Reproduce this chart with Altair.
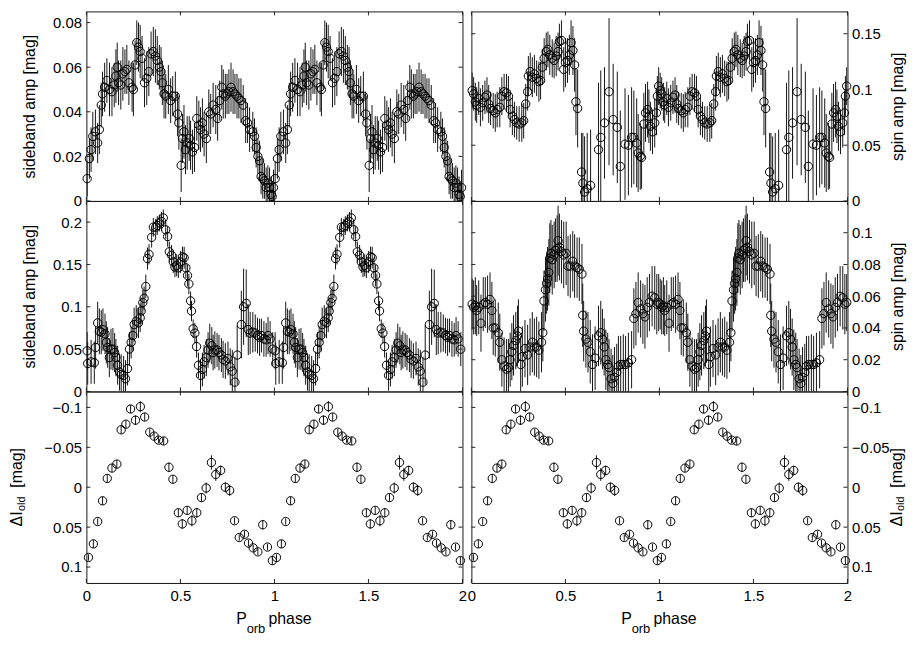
import altair as alt
import pandas as pd

FONT = "Liberation Sans"

# ---------------- data (one orbital cycle, plotted twice) ----------------
# Row 1, left: sideband amplitude
phase_a = [0.004,0.016,0.025,0.034,0.048,0.060,0.069,0.079,0.086,0.097,
           0.109,0.123,0.136,0.148,0.157,0.164,0.171,0.183,0.194,0.205,
           0.215,0.226,0.243,0.250,0.259,0.268,0.277,0.286,0.296,0.309,
           0.321,0.332,0.344,0.356,0.367,0.377,0.388,0.397,0.404,0.413,
           0.422,0.436,0.448,0.459,0.473,0.485,0.492,0.504,0.511,0.519,
           0.527,0.536,0.547,0.554,0.564,0.575,0.587,0.598,0.607,0.617,
           0.626,0.638,0.651,0.661,0.674,0.688,0.698,0.709,0.720,0.728,
           0.739,0.748,0.758,0.769,0.780,0.790,0.801,0.811,0.822,0.834,
           0.847,0.857,0.868,0.885,0.894,0.903,0.912,0.921,0.929,0.938,
           0.947,0.956,0.965,0.974,0.982,0.988,0.995]
amp_a = [0.010,0.019,0.023,0.029,0.031,0.026,0.032,0.043,0.048,0.051,
         0.054,0.050,0.049,0.052,0.056,0.060,0.053,0.052,0.057,0.058,
         0.059,0.053,0.051,0.050,0.061,0.071,0.069,0.067,0.064,0.053,
         0.055,0.058,0.066,0.067,0.065,0.063,0.060,0.058,0.053,0.048,
         0.047,0.050,0.045,0.047,0.047,0.039,0.035,0.016,0.028,0.031,
         0.023,0.026,0.028,0.025,0.022,0.024,0.037,0.034,0.032,0.035,
         0.030,0.028,0.040,0.039,0.043,0.041,0.037,0.045,0.051,0.048,
         0.047,0.048,0.049,0.051,0.049,0.048,0.047,0.046,0.045,0.043,
         0.036,0.035,0.032,0.031,0.029,0.024,0.020,0.018,0.011,0.010,
         0.009,0.006,0.008,0.006,0.003,0.002,0.006]
err_a = [0.008,0.009,0.010,0.011,0.010,0.009,0.011,0.010,0.010,0.011,
         0.010,0.012,0.011,0.010,0.012,0.011,0.010,0.011,0.012,0.010,
         0.011,0.010,0.011,0.012,0.011,0.010,0.011,0.012,0.010,0.011,
         0.012,0.011,0.010,0.011,0.012,0.011,0.010,0.011,0.010,0.011,
         0.010,0.011,0.010,0.009,0.011,0.010,0.012,0.012,0.011,0.012,
         0.011,0.012,0.010,0.011,0.010,0.011,0.010,0.011,0.010,0.011,
         0.010,0.011,0.010,0.009,0.010,0.011,0.010,0.009,0.010,0.011,
         0.010,0.009,0.010,0.011,0.010,0.009,0.010,0.009,0.010,0.009,
         0.010,0.009,0.010,0.009,0.008,0.009,0.008,0.009,0.008,0.009,
         0.008,0.009,0.008,0.009,0.008,0.007,0.008]

# Row 1, right: spin amplitude
phase_b = [0.004,0.012,0.021,0.028,0.039,0.048,0.060,0.072,0.083,0.092,
           0.102,0.116,0.127,0.137,0.151,0.162,0.174,0.187,0.197,0.206,
           0.218,0.229,0.241,0.254,0.268,0.278,0.289,0.299,0.303,0.313,
           0.324,0.335,0.347,0.359,0.368,0.377,0.387,0.398,0.407,0.417,
           0.430,0.440,0.451,0.461,0.468,0.479,0.491,0.500,0.511,0.521,
           0.530,0.540,0.549,0.556,0.565,0.586,0.593,0.602,0.616,0.634,
           0.676,0.688,0.708,0.732,0.754,0.776,0.792,0.817,0.835,0.852,
           0.864,0.879,0.887,0.898,0.905,0.917,0.926,0.937,0.944,0.952,
           0.963,0.975,0.984,0.989,0.996]
amp_b = [0.099,0.096,0.089,0.086,0.092,0.084,0.088,0.093,0.095,0.087,
         0.083,0.081,0.079,0.082,0.084,0.094,0.098,0.097,0.094,0.082,
         0.076,0.073,0.070,0.069,0.070,0.072,0.087,0.098,0.112,0.116,
         0.111,0.114,0.110,0.107,0.108,0.120,0.128,0.134,0.136,0.131,
         0.128,0.126,0.130,0.134,0.143,0.144,0.118,0.124,0.126,0.131,
         0.142,0.135,0.122,0.089,0.083,0.026,0.016,0.008,0.011,0.014,
         0.046,0.057,0.070,0.098,0.073,0.066,0.031,0.051,0.050,0.057,
         0.057,0.052,0.043,0.040,0.039,0.069,0.079,0.082,0.076,0.067,
         0.062,0.070,0.079,0.094,0.103]
err_b = [0.016,0.015,0.017,0.016,0.015,0.017,0.016,0.015,0.016,0.017,
         0.015,0.016,0.017,0.016,0.018,0.017,0.016,0.017,0.018,0.016,
         0.017,0.016,0.015,0.016,0.017,0.016,0.018,0.017,0.018,0.017,
         0.018,0.017,0.016,0.018,0.017,0.016,0.018,0.017,0.016,0.018,
         0.017,0.016,0.018,0.017,0.016,0.018,0.020,0.022,0.020,0.018,
         0.020,0.022,0.024,0.030,0.035,0.035,0.045,0.050,0.050,0.050,
         0.060,0.060,0.050,0.066,0.050,0.050,0.050,0.050,0.045,0.045,
         0.042,0.040,0.035,0.030,0.028,0.028,0.026,0.025,0.024,0.022,
         0.020,0.022,0.020,0.018,0.017]

# Row 2, left: sideband amplitude
phase_c = [0.004,0.007,0.025,0.042,0.049,0.060,0.069,0.079,0.088,0.099,
           0.106,0.113,0.122,0.131,0.141,0.150,0.157,0.166,0.176,0.185,
           0.198,0.208,0.219,0.229,0.238,0.247,0.254,0.265,0.277,0.286,
           0.291,0.300,0.307,0.316,0.325,0.333,0.347,0.356,0.369,0.377,
           0.388,0.399,0.409,0.422,0.432,0.441,0.453,0.462,0.471,0.480,
           0.489,0.501,0.511,0.520,0.529,0.538,0.545,0.554,0.559,0.568,
           0.577,0.586,0.596,0.607,0.617,0.626,0.638,0.647,0.656,0.667,
           0.674,0.683,0.695,0.705,0.718,0.727,0.739,0.753,0.765,0.776,
           0.790,0.802,0.824,0.836,0.850,0.861,0.871,0.885,0.898,0.910,
           0.921,0.931,0.944,0.956,0.966,0.977,0.991]
amp_c = [0.048,0.033,0.035,0.034,0.052,0.081,0.071,0.070,0.073,0.068,
         0.058,0.052,0.040,0.050,0.050,0.046,0.040,0.031,0.023,0.020,
         0.019,0.015,0.027,0.050,0.058,0.066,0.079,0.083,0.081,0.087,
         0.095,0.105,0.110,0.124,0.157,0.162,0.182,0.194,0.194,0.196,
         0.199,0.201,0.205,0.191,0.183,0.165,0.161,0.153,0.147,0.149,
         0.146,0.153,0.159,0.158,0.146,0.137,0.127,0.107,0.095,0.074,
         0.069,0.053,0.031,0.019,0.026,0.035,0.040,0.049,0.057,0.054,
         0.046,0.049,0.049,0.046,0.043,0.038,0.036,0.039,0.029,0.024,
         0.011,0.043,0.079,0.100,0.104,0.073,0.069,0.070,0.069,0.066,
         0.064,0.066,0.062,0.061,0.066,0.062,0.050]
err_c = [0.022,0.025,0.026,0.025,0.025,0.025,0.027,0.026,0.025,0.024,
         0.025,0.024,0.023,0.024,0.025,0.023,0.022,0.023,0.022,0.024,
         0.023,0.022,0.020,0.020,0.019,0.018,0.020,0.019,0.018,0.017,
         0.016,0.015,0.014,0.014,0.013,0.012,0.012,0.011,0.010,0.011,
         0.010,0.011,0.010,0.011,0.012,0.012,0.012,0.013,0.012,0.013,
         0.012,0.013,0.012,0.013,0.012,0.013,0.012,0.011,0.012,0.011,
         0.012,0.013,0.015,0.018,0.020,0.020,0.022,0.021,0.023,0.022,
         0.021,0.022,0.020,0.021,0.020,0.022,0.021,0.020,0.022,0.025,
         0.030,0.035,0.040,0.045,0.040,0.030,0.025,0.024,0.022,0.021,
         0.022,0.020,0.021,0.020,0.022,0.021,0.020]

# Row 2, right: spin amplitude
phase_d = [0.004,0.012,0.021,0.028,0.039,0.051,0.063,0.074,0.086,0.099,
           0.109,0.116,0.127,0.143,0.151,0.162,0.174,0.187,0.197,0.206,
           0.215,0.224,0.236,0.245,0.250,0.262,0.271,0.285,0.299,0.312,
           0.324,0.335,0.347,0.359,0.373,0.380,0.386,0.394,0.400,0.405,
           0.412,0.417,0.423,0.430,0.440,0.447,0.456,0.461,0.468,0.479,
           0.491,0.504,0.514,0.526,0.539,0.549,0.562,0.574,0.588,0.592,
           0.597,0.609,0.620,0.632,0.644,0.658,0.676,0.688,0.697,0.706,
           0.715,0.725,0.732,0.743,0.752,0.761,0.773,0.782,0.794,0.808,
           0.820,0.835,0.852,0.864,0.875,0.887,0.900,0.912,0.923,0.935,
           0.947,0.961,0.975,0.986,0.996]
amp_d = [0.055,0.053,0.054,0.051,0.053,0.043,0.055,0.056,0.055,0.058,
         0.051,0.040,0.040,0.037,0.031,0.020,0.016,0.014,0.015,0.020,
         0.025,0.029,0.032,0.035,0.038,0.017,0.022,0.027,0.023,0.028,
         0.031,0.028,0.028,0.026,0.031,0.037,0.057,0.064,0.068,0.071,
         0.075,0.084,0.087,0.083,0.086,0.089,0.090,0.095,0.091,0.088,
         0.086,0.087,0.079,0.079,0.082,0.079,0.078,0.077,0.074,0.048,
         0.038,0.033,0.031,0.025,0.017,0.021,0.035,0.037,0.033,0.028,
         0.020,0.017,0.015,0.008,0.005,0.009,0.012,0.016,0.017,0.017,
         0.017,0.018,0.020,0.046,0.049,0.056,0.052,0.049,0.047,0.053,
         0.056,0.060,0.059,0.055,0.056]
err_d = [0.016,0.017,0.018,0.016,0.017,0.018,0.017,0.016,0.018,0.017,
         0.018,0.017,0.018,0.019,0.018,0.017,0.018,0.019,0.018,0.017,
         0.018,0.019,0.018,0.019,0.020,0.018,0.019,0.018,0.019,0.018,
         0.019,0.018,0.019,0.018,0.019,0.018,0.019,0.020,0.019,0.020,
         0.021,0.022,0.021,0.022,0.021,0.020,0.021,0.022,0.021,0.020,
         0.021,0.020,0.019,0.020,0.019,0.020,0.019,0.020,0.019,0.020,
         0.019,0.018,0.019,0.020,0.019,0.020,0.019,0.020,0.019,0.018,
         0.019,0.020,0.018,0.019,0.018,0.019,0.018,0.019,0.018,0.019,
         0.018,0.019,0.018,0.019,0.020,0.019,0.018,0.019,0.020,0.019,
         0.018,0.019,0.020,0.019,0.018]

# Row 3 (both panels): Delta I_old light curve
phase_e = [0.011,0.037,0.060,0.086,0.111,0.136,0.162,0.185,0.210,0.235,
           0.261,0.287,0.310,0.337,0.360,0.384,0.411,0.439,0.460,0.489,
           0.510,0.536,0.561,0.587,0.612,0.637,0.665,0.688,0.714,0.739,
           0.762,0.788,0.813,0.841,0.862,0.887,0.912,0.938,0.963,0.989]
mag_e = [0.088,0.071,0.043,0.017,-0.011,-0.024,-0.029,-0.072,-0.079,-0.098,
         -0.084,-0.101,-0.088,-0.069,-0.064,-0.059,-0.058,-0.025,-0.010,0.032,
         0.046,0.029,0.042,0.032,0.013,0.001,-0.031,-0.016,-0.021,0.000,
         0.004,0.042,0.063,0.059,0.070,0.076,0.081,0.047,0.075,0.092]
err_e = [0.004,0.005,0.004,0.005,0.005,0.005,0.005,0.005,0.005,0.005,
         0.006,0.007,0.005,0.004,0.004,0.004,0.005,0.006,0.005,0.005,
         0.006,0.005,0.007,0.006,0.005,0.007,0.009,0.008,0.006,0.006,
         0.007,0.004,0.004,0.004,0.004,0.004,0.004,0.006,0.004,0.005]

x_ticks = [0, 0.5, 1, 1.5, 2]
yt_a = [0, 0.02, 0.04, 0.06, 0.08]
yt_b = [0, 0.05, 0.1, 0.15]
yt_c = [0, 0.05, 0.1, 0.15, 0.2]
yt_d = [0, 0.02, 0.04, 0.06, 0.08, 0.1]
yt_e = [-0.1, -0.05, 0, 0.05, 0.1]

# ---------------- layout ----------------
W = 379
HEIGHTS = [191, 192, 193]
TL = 4  # tick length (inward)
NOTICK = dict(ticks=False, tickSize=0, domain=False, grid=False)
TICK_COLOR = "#222222"


def two_cycles(ph, val, err):
    rows = []
    for k in (0, 1):
        for p, v, e in zip(ph, val, err):
            rows.append({"phase": p + k, "val": v, "lo": v - e, "hi": v + e})
    return pd.DataFrame(rows)


def text(s, x, y, size, angle=0):
    return alt.Chart(pd.DataFrame({"t": [s]})).mark_text(
        text=s, font=FONT, fontSize=size, angle=angle, align="left",
        baseline="alphabetic", color="black"
    ).encode(x=alt.value(x), y=alt.value(y))


def inner_ticks(values, scale, along, h):
    """Inward pointing tick marks on both edges of the plot box."""
    tdf = pd.DataFrame({"t": values})
    out = []
    if along == "x":
        for a, b in ((0, TL), (h - TL, h)):
            out.append(alt.Chart(tdf).mark_rule(color=TICK_COLOR, strokeWidth=1).encode(
                x=alt.X("t:Q", scale=scale, axis=None),
                y=alt.value(a), y2=alt.value(b)))
    else:
        for a, b in ((0, TL), (W - TL, W)):
            out.append(alt.Chart(tdf).mark_rule(color=TICK_COLOR, strokeWidth=1).encode(
                y=alt.Y("t:Q", scale=scale, axis=None),
                x=alt.value(a), x2=alt.value(b)))
    return out


def panel(df, ydom, yticks, title, col, row, reverse=False):
    h = HEIGHTS[row]
    xs = alt.Scale(domain=[0, 2], nice=False, zero=False)
    ys = alt.Scale(domain=ydom, nice=False, zero=False, reverse=reverse)
    if row == 2:
        bottom = alt.Axis(orient="bottom", values=x_ticks, format="~g",
                          labelPadding=6, labelFlush=False, title=None, **NOTICK)
    else:
        bottom = None
    if col == 0:
        prim = alt.Axis(orient="left", values=yticks, format="~g",
                        labelPadding=5, labelFlush=False,
                        title=title if title else None, titlePadding=15,
                        **NOTICK)
    else:
        prim = alt.Axis(orient="right", values=yticks, format="~g",
                        labelPadding=4, labelFlush=False,
                        title=title if title else None, titleAngle=270,
                        titleBaseline="top", titlePadding=9, **NOTICK)
    rules = alt.Chart(df).mark_rule(color="#151515", strokeWidth=1, clip=True).encode(
        x=alt.X("phase:Q", scale=xs, axis=bottom),
        y=alt.Y("lo:Q", scale=ys, axis=prim),
        y2="hi:Q",
    )
    pts = alt.Chart(df).mark_point(shape="circle", filled=False, color="black",
                                   opacity=1, size=70, strokeWidth=1).encode(
        x=alt.X("phase:Q", scale=xs, axis=None),
        y=alt.Y("val:Q", scale=ys, axis=None),
    )
    layers = [rules, pts]
    layers += inner_ticks(x_ticks, xs, "x", h)
    layers += inner_ticks(yticks, ys, "y", h)
    if row == 2:
        # "P_orb phase" x title
        layers += [text("P", 151, h + 41.5, 16),
                   text("orb", 161.5, h + 50.5, 13),
                   text("phase", 183.5, h + 41.5, 16)]
        # "ΔI_old [mag]" y title
        if col == 0:
            bx, sx = -65, -62
        else:
            bx, sx = W + 55, W + 57
        layers += [text("ΔI", bx, 136, 16, 270),
                   text("old", sx, 120.5, 11, 270),
                   text("[mag]", bx, 97, 16, 270)]
    return alt.layer(*layers).resolve_axis(x="independent", y="independent").properties(
        width=W, height=h)


pA = panel(two_cycles(phase_a, amp_a, err_a), [0, 0.085], yt_a, "sideband amp [mag]", 0, 0)
pB = panel(two_cycles(phase_b, amp_b, err_b), [0, 0.17], yt_b, "spin amp [mag]", 1, 0)
pC = panel(two_cycles(phase_c, amp_c, err_c), [0, 0.225], yt_c, "sideband amp [mag]", 0, 1)
pD = panel(two_cycles(phase_d, amp_d, err_d), [0, 0.12], yt_d, "spin amp [mag]", 1, 1)
pE1 = panel(two_cycles(phase_e, mag_e, err_e), [-0.12, 0.12], yt_e, None, 0, 2, reverse=True)
pE2 = panel(two_cycles(phase_e, mag_e, err_e), [-0.12, 0.12], yt_e, None, 1, 2, reverse=True)

chart = alt.concat(
    pA, pB, pC, pD, pE1, pE2,
    columns=2,
    spacing={"row": 0, "column": 9},
    bounds="flush",
).properties(
    padding={"left": 0, "top": 0, "right": 0, "bottom": 0},
    background="white",
).configure_view(
    stroke="#1a1a1a", strokeWidth=1,
).configure_axis(
    labelFont=FONT, labelFontSize=15, labelColor="black",
    titleFont=FONT, titleFontSize=16, titleFontWeight="normal", titleColor="black",
)

chart.save("out.html", embed_options={"renderer": "svg", "actions": False})
